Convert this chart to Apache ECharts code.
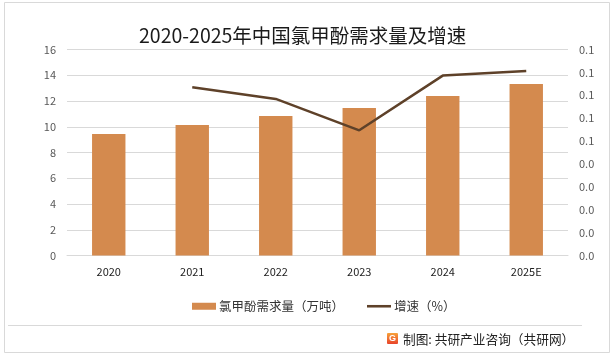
<!DOCTYPE html>
<html><head><meta charset="utf-8">
<script src="https://cdn.jsdelivr.net/npm/echarts@6/dist/echarts.min.js"></script>
<style>html,body{margin:0;padding:0;background:#fff}#c{width:616px;height:357px}</style>
</head><body><div id="c"></div>
<script>
const categories = ['2020','2021','2022','2023','2024','2025E'];
const demand = [9.44, 10.14, 10.83, 11.46, 12.39, 13.32];
const growth = [null, 0.0735, 0.0684, 0.0547, 0.0786, 0.0806];
const leftTicks = {min:0, max:16, interval:2};
const rightTicks = {min:0, max:0.09, interval:0.01};
const titleText = '2020-2025年中国氯甲酚需求量及增速';
const barName = '氯甲酚需求量（万吨）';
const lineName = '增速（%）';
const footerText = '制图: 共研产业咨询（共研网）';

const FONT = '"Noto Sans CJK SC","Noto Sans",sans-serif';
const chart = echarts.init(document.getElementById('c'), null, {renderer:'canvas'});
chart.setOption({
  backgroundColor:'#fff',
  animation:false,
  textStyle:{fontFamily:FONT},
  title:{text:titleText,left:134,top:21,
    textStyle:{fontFamily:FONT,fontSize:19.5,fontWeight:'normal',color:'#1a1a1a'}},
  grid:{left:67,right:48,top:49.5,bottom:101.5,containLabel:false},
  legend:{left:187,top:295,itemGap:23,itemWidth:24,itemHeight:7,
    textStyle:{fontFamily:FONT,fontSize:12.5,color:'#333',padding:[0,0,0,-2]},
    data:[{name:barName,icon:'rect'},{name:lineName,icon:'path://M0,0H28V3H0Z'}]},
  xAxis:{type:'category',data:categories,
    axisLine:{show:true,lineStyle:{color:'#d9d9d9'}},axisTick:{show:false},
    axisLabel:{color:'#222',fontSize:11,margin:11,fontFamily:FONT}},
  yAxis:[
    {type:'value',min:leftTicks.min,max:leftTicks.max,interval:leftTicks.interval,
     axisLine:{show:false},axisTick:{show:false},
     axisLabel:{color:'#595959',fontSize:11,margin:11,fontFamily:FONT},
     splitLine:{lineStyle:{color:'#d9d9d9',width:1}}},
    {type:'value',min:rightTicks.min,max:rightTicks.max,interval:rightTicks.interval,
     axisLine:{show:false},axisTick:{show:false},splitLine:{show:false},
     axisLabel:{color:'#595959',fontSize:11,margin:11,fontFamily:FONT,
       formatter:v=>(Math.round(Math.round(v*100)/10)/10).toFixed(1)}}
  ],
  series:[
    {name:barName,type:'bar',data:demand,barWidth:'40%',yAxisIndex:0,
     itemStyle:{color:'#D48A4E'}},
    {name:lineName,type:'line',data:growth,yAxisIndex:1,symbol:'none',showSymbol:false,
     connectNulls:false,lineStyle:{color:'#5E4129',width:2.5},itemStyle:{color:'#5E4129'}}
  ],
  graphic:[
    {type:'rect',shape:{x:4.5,y:2.5,width:605,height:350},style:{fill:'none',stroke:'#d9d9d9',lineWidth:1},silent:true,z:-1},
    {type:'line',shape:{x1:8,y1:325.5,x2:582,y2:325.5},style:{stroke:'#d9d9d9',lineWidth:1}},
    {type:'rect',shape:{x:387,y:333,width:11,height:11,r:1},style:{fill:new echarts.graphic.LinearGradient(0,0,0,1,[{offset:0,color:'#F7A23A'},{offset:1,color:'#E8432A'}])}},
    {type:'text',x:392.5,y:338.5,style:{text:'G',fill:'#fff',font:'bold 9px sans-serif',align:'center',verticalAlign:'middle'}},
    {type:'text',x:403,y:339,style:{text:footerText,fill:'#222',font:'12.7px "Noto Sans CJK SC"',verticalAlign:'middle'}}
  ]
});
</script></body></html>
